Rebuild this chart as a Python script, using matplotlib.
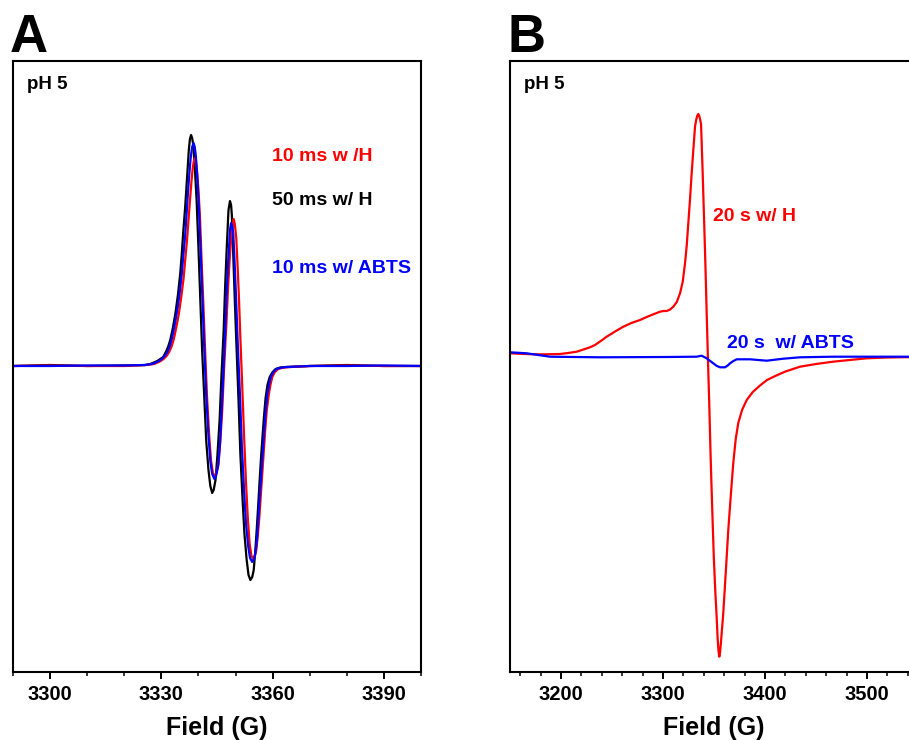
import matplotlib
matplotlib.use("Agg")
import matplotlib.pyplot as plt
from matplotlib.ticker import MultipleLocator

plt.rcParams['font.family'] = ['Liberation Sans', 'DejaVu Sans']
plt.rcParams['font.weight'] = 'bold'

# Panel A: EPR spectra, pH 5 (field in G, intensity in arbitrary units)
fieldA_black = [3290, 3300, 3310, 3320, 3325.7, 3327.0, 3328.0, 3328.9, 3329.7, 3330.5,
                3331.2, 3331.8, 3332.4, 3333.1, 3333.8, 3334.5, 3335.1, 3335.5, 3335.9, 3336.4,
                3336.8, 3337.4, 3337.7, 3338.0, 3338.3, 3338.6, 3339.0, 3339.5, 3340.0, 3340.5,
                3341.0, 3341.6, 3342.1, 3342.7, 3343.2, 3343.7, 3344.1, 3344.6, 3345.1, 3345.7,
                3346.2, 3346.8, 3347.2, 3347.6, 3348.1, 3348.5, 3348.8, 3349.0, 3349.3, 3349.7,
                3350.2, 3350.8, 3351.3, 3351.9, 3352.4, 3353.0, 3353.5, 3354.0, 3354.5, 3354.9,
                3355.3, 3355.7, 3356.1, 3356.5, 3356.9, 3357.3, 3357.7, 3358.1, 3358.6, 3359.2,
                3360.0, 3360.8, 3362.0, 3363.5, 3370, 3380, 3390, 3400]
intA_black = [0, 1, 0, 0.5, 1, 2, 3.5, 5, 7, 9,
              14, 19, 26, 38, 53, 72, 93, 112, 134, 158,
              181, 216, 227, 231, 228, 221, 200, 166, 118, 66,
              15, -34, -75, -104, -120, -127, -124, -114, -90, -54,
              -10, 36, 80, 116, 156, 165, 161, 151, 120, 76,
              25, -34, -88, -134, -168, -194, -209, -214, -211, -204,
              -186, -164, -140, -114, -90, -69, -49, -32, -19, -11,
              -6, -3, -1.5, -1, 0, 1, 0, 0]

fieldA_blue = [3290, 3300, 3310, 3320, 3325.5, 3327.5, 3328.5, 3329.3, 3330.1, 3330.9,
               3331.6, 3332.2, 3332.8, 3333.5, 3334.2, 3334.9, 3335.5, 3335.9, 3336.4, 3336.8,
               3337.2, 3337.6, 3337.9, 3338.3, 3338.7, 3339.0, 3339.3, 3339.7, 3340.1, 3340.6,
               3341.1, 3341.6, 3342.1, 3342.7, 3343.2, 3343.7, 3344.3, 3344.8, 3345.3, 3345.8,
               3346.2, 3346.7, 3347.2, 3347.6, 3348.1, 3348.5, 3348.8, 3349.1, 3349.4, 3349.7,
               3350.1, 3350.6, 3351.2, 3351.7, 3352.3, 3352.8, 3353.4, 3353.9, 3354.5, 3355.0,
               3355.4, 3355.8, 3356.1, 3356.5, 3356.9, 3357.3, 3357.7, 3358.1, 3358.5, 3359.0,
               3359.5, 3360.2, 3361.0, 3362.5, 3364, 3370, 3380, 3390, 3400]
intA_blue = [0, 0, 0.5, 0.5, 1, 2, 3.5, 5, 7, 10,
             14, 19, 27, 39, 54, 72, 92, 110, 130, 152,
             175, 195, 208, 219, 223, 219, 210, 188, 160, 113,
             64, 15, -30, -70, -95, -108, -113, -109, -100, -78,
             -48, -8, 35, 75, 110, 136, 143, 140, 132, 108,
             72, 22, -30, -80, -125, -157, -180, -192, -196, -193,
             -186, -172, -155, -132, -110, -88, -66, -46, -30, -19,
             -11, -6, -3, -1.5, -1, 0, 0, 0.5, 0]

fieldA_red = [3290, 3300, 3310, 3320, 3326.0, 3328.0, 3329.0, 3329.8, 3330.6, 3331.4,
              3332.1, 3332.7, 3333.3, 3334.0, 3334.7, 3335.4, 3336.0, 3336.4, 3336.9, 3337.3,
              3337.7, 3338.1, 3338.4, 3338.7, 3339.0, 3339.3, 3339.6, 3340.0, 3340.4, 3340.8,
              3341.3, 3341.8, 3342.3, 3342.9, 3343.4, 3343.9, 3344.3, 3344.8, 3345.4, 3345.9,
              3346.4, 3346.9, 3347.5, 3348.0, 3348.5, 3349.0, 3349.5, 3349.8, 3350.2, 3350.5,
              3350.9, 3351.3, 3351.8, 3352.3, 3352.8, 3353.3, 3353.8, 3354.3, 3354.7, 3355.2,
              3355.6, 3356.0, 3356.4, 3356.8, 3357.2, 3357.6, 3358.0, 3358.4, 3358.9, 3359.4,
              3359.9, 3360.6, 3361.5, 3363, 3365, 3370, 3380, 3390, 3400]
intA_red = [0, 0.5, 0, 0, 1, 2, 3.5, 5, 7, 10,
            14, 19, 26, 38, 52, 70, 88, 105, 125, 145,
            165, 184, 196, 204, 208, 205, 196, 176, 150, 110,
            64, 15, -30, -70, -95, -107, -111, -107, -98, -75,
            -45, -3, 40, 80, 112, 136, 147, 142, 128, 104,
            70, 28, -20, -70, -115, -152, -178, -190, -193, -190,
            -184, -170, -152, -130, -108, -86, -64, -45, -30, -19,
            -11, -6, -3, -1.5, -1, 0, 0.5, 0, 0]

# Panel B: 20 s spectra
fieldB_red = [3150, 3160, 3172.8, 3185, 3199, 3207, 3215.4, 3222, 3228.4, 3233.3,
              3239, 3244.8, 3253, 3261.1, 3269, 3277.5, 3284, 3290.5, 3297.1, 3300.5,
              3303.6, 3307, 3310.1, 3313.5, 3316.7, 3319.3, 3321.6, 3323.3, 3324.8, 3326.5,
              3328.1, 3329.8, 3331.4, 3332.5, 3333.5, 3334.6, 3335.6, 3336.5, 3337.3, 3338.9,
              3340.2, 3341.5, 3342.8, 3344.0, 3345.3, 3346.7, 3348.2, 3349.8, 3351.3, 3352.6,
              3353.6, 3354.4, 3355.2, 3356.0, 3357.0, 3358.0, 3359.1, 3361.5, 3364.0, 3366.5,
              3368.9, 3371.3, 3373.8, 3377.5, 3382.1, 3388, 3395.1, 3402, 3410, 3420,
              3434.3, 3450, 3466.7, 3483, 3499.7, 3520, 3550]
intB_red = [3.7, 3.2, 2.7, 2.7, 3, 4, 5.3, 7.5, 9.7, 12,
            16, 20.3, 25.5, 30.3, 34, 37, 40, 42.7, 45.3, 46,
            46, 47.5, 50.3, 55, 63.7, 75, 93.7, 112, 133.7, 158,
            183.7, 208, 230.3, 237, 241, 243, 241, 237, 233, 184,
            140, 95, 45, 0, -45, -100, -150, -200, -235, -260,
            -282, -294, -299.7, -295, -283, -270, -256, -216, -173, -138,
            -106, -82, -66, -53, -43, -35, -28.5, -23, -19, -14.5,
            -9.7, -7, -4.7, -3, -1.3, -0.5, 0]

fieldB_blue = [3150, 3166.4, 3189.2, 3238.2, 3303.6, 3333.0, 3337.9, 3342.8, 3346, 3349.3,
               3352.5, 3355.9, 3360.8, 3363.5, 3365.7, 3369, 3372.3, 3385.3, 3401.7, 3417.9,
               3434.3, 3466.7, 3550]
intB_blue = [4.7, 3.7, 0.3, -0.3, 0, 0.3, 1.3, -1.3, -3.8, -6.3,
             -8.8, -10.3, -10.3, -8.5, -6.3, -4, -2.3, -2.3, -3.7, -1.7,
             -0.3, 0.3, 0.3]

W, H = 909, 740
fig = plt.figure(figsize=(W / 100, H / 100), dpi=100)

axA = fig.add_axes([13 / W, (H - 672) / H, 408 / W, 611 / H])
axB = fig.add_axes([510 / W, (H - 672) / H, 408 / W, 611 / H])

kw = dict(lw=1.6, solid_joinstyle='round')
axA.plot(fieldA_black, intA_black, color='black', **kw)
axA.plot(fieldA_red, intA_red, color='#ff0000', **kw)
axA.plot(fieldA_blue, intA_blue, color='#0000ff', **kw)
axA.set_xlim(3290, 3400)
axA.set_ylim(-306, 305)
axA.set_xticks([3300, 3330, 3360, 3390])
axA.xaxis.set_minor_locator(MultipleLocator(10))

axB.plot(fieldB_red, intB_red, color='#ff0000', **kw)
axB.plot(fieldB_blue, intB_blue, color='#0000ff', **kw)
axB.set_xlim(3150, 3550)
axB.set_ylim(-315, 296)
axB.set_xticks([3200, 3300, 3400, 3500])
axB.xaxis.set_minor_locator(MultipleLocator(20))

for ax in (axA, axB):
    ax.set_yticks([])
    for s in ax.spines.values():
        s.set_linewidth(1.5)
    ax.tick_params(axis='x', which='major', length=5, width=1.4, pad=4, labelsize=14.5)
    ax.tick_params(axis='x', which='minor', length=3, width=1.1)
    for lab in ax.get_xticklabels():
        lab.set_fontweight('bold')
    ax.set_xlabel('Field (G)', fontsize=18, fontweight='bold', labelpad=9)
    ax.text(0.034, 0.954, 'pH 5', transform=ax.transAxes, fontsize=13.5,
            fontweight='bold', va='baseline')

axA.text(0.635, 0.843, '10 ms w /H', transform=axA.transAxes, color='#ff0000',
         fontsize=14, fontweight='bold', va='center')
axA.text(0.635, 0.7725, '50 ms w/ H', transform=axA.transAxes, color='black',
         fontsize=14, fontweight='bold', va='center')
axA.text(0.635, 0.661, '10 ms w/ ABTS', transform=axA.transAxes, color='#0000ff',
         fontsize=14, fontweight='bold', va='center')

axB.text(0.4975, 0.745, '20 s w/ H', transform=axB.transAxes, color='#ff0000',
         fontsize=14, fontweight='bold', va='center')
axB.text(0.532, 0.538, '20 s  w/ ABTS', transform=axB.transAxes, color='#0000ff',
         fontsize=14, fontweight='bold', va='center')

fig.text(10 / W, (H - 52) / H, 'A', fontsize=38, fontweight='bold', va='baseline')
fig.text(508 / W, (H - 52) / H, 'B', fontsize=38, fontweight='bold', va='baseline')

fig.savefig('out.png', dpi=100)
